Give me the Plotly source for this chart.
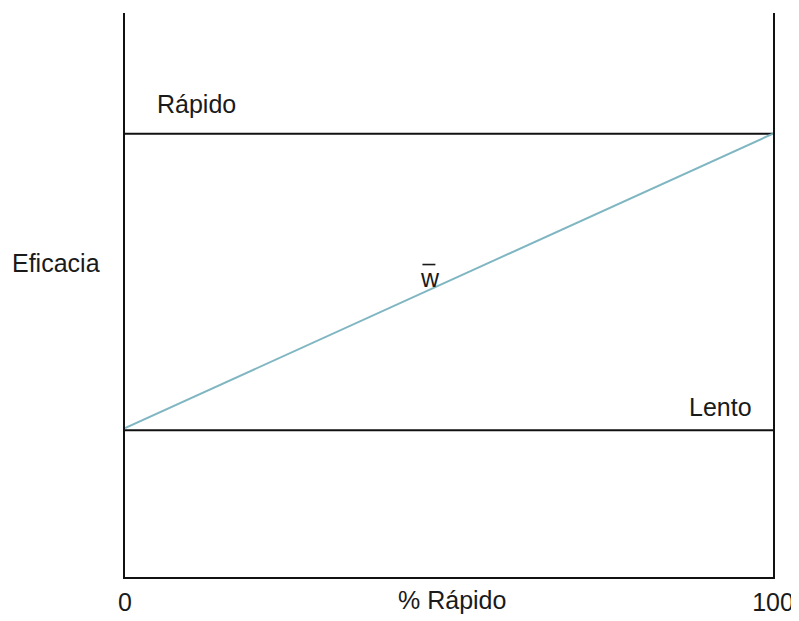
import plotly.graph_objects as go

# ---- data ----
pct_rapido = [0, 100]                 # % Rápido (x)
eficacia_lento = [0.26, 0.26]         # Lento efficacy (constant)
eficacia_rapido = [0.786, 0.786]      # Rápido efficacy (constant)
w_bar = [0.264, 0.786]                # mean efficacy w̄
x_tickvals = [0, 100]
x_ticktext = ["0", "100"]

FONT = "Liberation Sans, Arial, sans-serif"
TXT = "#1a1a1a"
FS = 25

fig = go.Figure()
fig.add_trace(go.Scatter(x=pct_rapido, y=eficacia_rapido, mode="lines",
                         line=dict(color="#111111", width=2), showlegend=False, hoverinfo="skip"))
fig.add_trace(go.Scatter(x=pct_rapido, y=eficacia_lento, mode="lines",
                         line=dict(color="#111111", width=2), showlegend=False, hoverinfo="skip"))
fig.add_trace(go.Scatter(x=pct_rapido, y=w_bar, mode="lines",
                         line=dict(color="#7fb6c2", width=2), showlegend=False, hoverinfo="skip"))

ann = dict(showarrow=False, font=dict(family=FONT, size=FS, color=TXT))
fig.add_annotation(x=4.6, y=0.838, text="Rápido", xanchor="left", yanchor="middle", **ann)
fig.add_annotation(x=97, y=0.302, text="Lento", xanchor="right", yanchor="middle", **ann)
fig.add_annotation(x=47.0, y=0.531, text="w", xanchor="center", yanchor="middle", **ann)
# overbar of w̄
fig.add_shape(type="line", x0=45.9, x1=47.9, y0=0.554, y1=0.554, xref="x", yref="y",
              line=dict(color=TXT, width=1.6))
fig.add_annotation(xref="paper", x=-0.107, y=0.557, text="Eficacia", xanchor="center", yanchor="middle", **ann)
fig.add_annotation(x=50.5, yref="paper", y=-0.040, text="% Rápido", xanchor="center", yanchor="middle", **ann)

# body has an 8px default margin: shift the figure so the plot lands where the reference has it
fig.update_layout(
    width=791, height=613,
    margin=dict(l=117, r=21, t=5, b=31),
    paper_bgcolor="white", plot_bgcolor="white",
    xaxis=dict(range=[0, 100], showgrid=False, zeroline=False, showline=True, linecolor="#111111",
               linewidth=2, tickvals=x_tickvals, ticktext=x_ticktext, ticks="",
               ticklabelstandoff=2, tickfont=dict(family=FONT, size=FS, color=TXT)),
    yaxis=dict(range=[0, 1], showgrid=False, zeroline=False, showline=True, mirror=True,
               linecolor="#111111", linewidth=2, showticklabels=False, ticks=""),
)
fig.write_html("out.html")
